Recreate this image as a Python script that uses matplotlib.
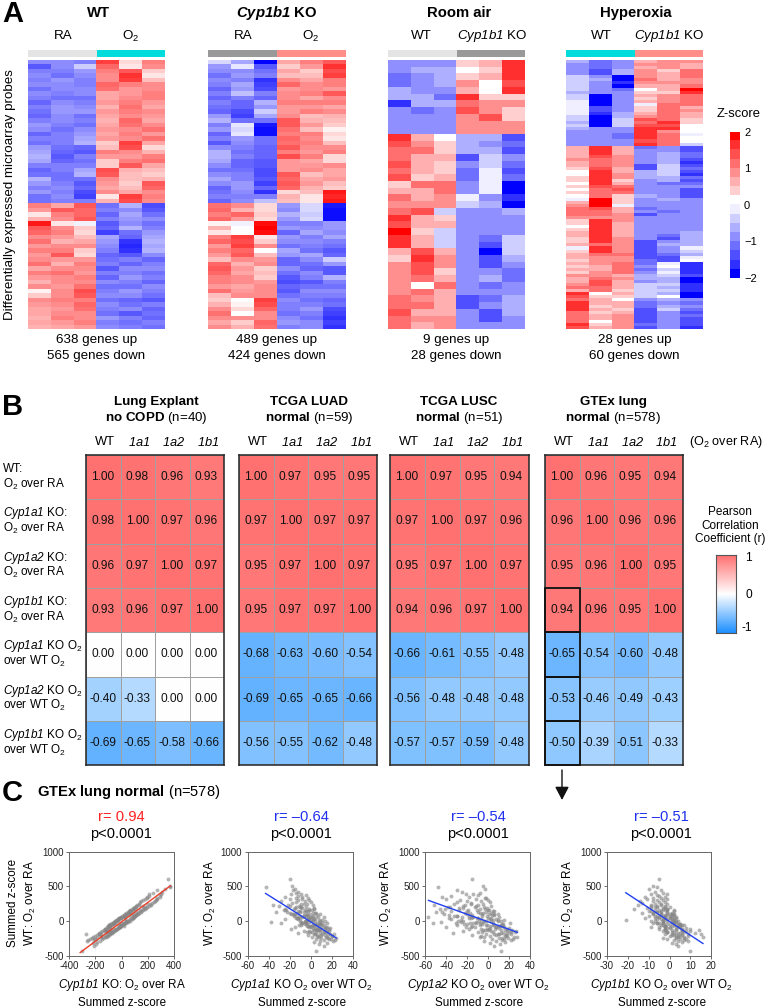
import numpy as np
import matplotlib
matplotlib.use("Agg")
import matplotlib.pyplot as plt
from matplotlib.colors import ListedColormap, BoundaryNorm, LinearSegmentedColormap, Normalize
from matplotlib.patches import Rectangle

plt.rcParams["font.family"] = ["Liberation Sans", "DejaVu Sans"]
plt.rcParams["mathtext.fontset"] = "custom"
plt.rcParams["mathtext.rm"] = "Liberation Sans"
plt.rcParams["mathtext.it"] = "Liberation Sans:italic"
plt.rcParams["mathtext.cal"] = "Liberation Sans:italic"
plt.rcParams["mathtext.bf"] = "Liberation Sans:bold"
plt.rcParams["mathtext.bfit"] = "Liberation Sans:italic:bold"
plt.rcParams["axes.unicode_minus"] = False

# ---- Panel A: z-scores read per row (columns: 3 + 3 samples) ----
wt_o2_z = [
    [-0.9,-0.9,-1.0,1.5,0.3,1.0],[-1.3,-0.9,-0.4,1.2,0.2,0.9],[-1.0,-1.0,-0.8,1.0,1.3,0.4],[-0.9,-1.1,-0.9,0.9,1.6,0.2],
    [-1.0,-0.8,-1.0,0.9,1.5,0.5],[-0.9,-0.9,-1.0,1.2,1.0,0.9],[-1.1,-0.9,-0.9,1.1,0.8,0.9],[-0.9,-1.0,-0.9,0.7,0.8,1.0],
    [-1.0,-1.1,-1.1,0.7,0.9,1.0],[-1.2,-0.9,-1.0,0.8,1.0,0.8],[-1.0,-0.8,-0.9,0.6,1.1,0.7],[-1.1,-0.8,-0.8,0.8,1.0,0.9],
    [-1.2,-0.9,-1.1,0.7,0.9,0.8],[-1.0,-0.9,-1.0,0.6,1.2,0.7],[-0.8,-1.0,-1.1,0.7,1.1,0.9],[-0.9,-1.1,-0.9,0.8,0.9,1.1],
    [-1.2,-1.0,-0.8,0.7,1.0,0.8],[-1.0,-1.0,-0.7,0.8,0.9,1.1],[-1.1,-1.0,-0.6,0.4,1.5,0.7],[-0.8,-1.1,-1.2,0.5,1.4,0.3],
    [-0.7,-1.2,-1.3,1.0,0.9,0.6],[-0.6,-1.3,-1.0,0.8,0.8,1.0],[-0.7,-1.2,-1.1,0.4,1.0,1.1],[-1.0,-1.0,-1.0,0.4,1.3,0.7],
    [-1.2,-1.0,-0.7,1.4,0.6,0.5],[-1.1,-1.1,-0.6,1.3,0.5,0.4],[-0.6,-1.1,-1.1,0.9,0.5,0.6],[-0.8,-1.0,-1.3,0.8,0.4,1.3],
    [-1.0,-0.9,-1.2,0.7,0.5,1.2],[-0.8,-1.0,-1.4,0.9,0.7,0.9],[-1.1,-0.9,-1.5,0.2,1.5,1.0],[-1.1,-1.0,-1.0,0.6,1.4,0.9],
    [1.0,0.7,1.3,-1.1,-0.6,-1.4],[0.8,1.3,1.2,-1.0,-0.9,-1.3],[0.2,1.0,1.2,-1.2,-0.7,-1.1],[0.6,0.9,1.3,-1.0,-0.8,-0.9],
    [1.8,0.2,-0.1,-1.3,-0.9,-1.1],[1.3,0.9,0.4,-1.2,-0.6,-1.0],[1.2,1.0,0.3,-1.5,-1.1,-0.8],[0.9,0.8,0.5,-0.7,-1.2,-0.7],
    [1.1,0.6,0.7,-0.8,-1.6,-0.6],[0.8,0.9,0.9,-0.9,-1.7,-0.7],[1.0,1.0,0.4,-1.0,-1.6,-0.6],[0.8,1.3,0.3,-1.2,-1.3,-0.9],
    [0.9,0.8,0.8,-1.1,-1.0,-1.2],[1.1,0.6,1.0,-1.0,-1.2,-1.0],[0.7,0.9,0.9,-1.3,-0.9,-0.9],[1.0,1.1,0.8,-1.0,-1.0,-1.1],
    [0.8,0.9,1.0,-1.2,-0.8,-1.0],[0.6,0.9,0.9,-0.9,-1.0,-1.2],[0.9,0.8,1.1,-1.1,-1.1,-0.9],[0.1,0.9,1.4,-1.0,-0.8,-1.0],
    [0.4,0.9,1.3,-0.9,-0.9,-1.1],[0.9,1.0,1.0,-1.1,-1.2,-1.3],[0.8,0.9,1.2,-0.9,-1.1,-1.0],[0.7,0.8,1.1,-1.0,-0.9,-1.2],
    [0.7,0.9,0.9,-1.1,-1.3,-1.1],[0.6,1.0,0.9,-0.8,-1.0,-1.2],[0.7,0.8,1.0,-1.0,-1.1,-1.0],[0.6,0.7,0.8,-0.9,-1.0,-1.1],
]
ko_o2_z = [
    [-0.3,-0.7,-2.0,0.7,1.0,1.3],[-0.8,-0.2,-1.3,0.4,0.8,1.6],[-0.9,-0.9,-1.1,0.7,0.4,1.4],[-1.1,-0.8,-1.0,0.5,0.5,1.5],
    [-0.9,-1.0,-1.6,0.9,0.7,1.0],[-1.0,-0.7,-1.5,1.2,0.9,1.0],[-1.2,-0.8,-1.4,0.8,0.9,0.8],[-1.0,-0.5,-1.0,0.9,1.0,1.3],
    [-1.2,-1.0,-1.2,0.9,0.7,0.9],[-1.0,-1.2,-0.6,1.0,1.0,1.0],[-1.1,-1.2,-0.8,0.8,0.8,0.7],[-1.2,-1.4,-0.4,0.8,1.0,0.9],
    [-0.8,-1.5,-0.7,0.9,0.5,0.6],[-0.6,-1.1,-1.1,1.3,0.6,0.5],[-1.0,-0.2,-1.8,1.3,0.8,0.4],[-0.8,-0.3,-1.9,1.1,0.5,0.1],
    [-1.2,-0.2,-1.9,1.0,1.0,0.3],[-1.0,-0.8,-1.1,1.2,0.9,0.2],[-1.3,-0.9,-1.1,1.1,1.0,0.5],[-0.9,-1.0,-1.2,1.3,0.9,0.9],
    [-0.6,-1.1,-1.2,1.0,0.8,1.0],[-0.6,-1.0,-1.2,1.4,1.0,0.3],[-0.7,-1.2,-1.3,0.8,0.7,0.3],[-0.9,-1.2,-1.3,0.8,0.8,0.9],
    [-1.1,-1.1,-1.4,0.8,0.9,0.7],[-0.9,-1.0,-1.4,1.3,0.5,0.7],[-0.7,-1.0,-1.3,1.2,0.7,0.8],[-0.9,-0.8,-1.5,1.3,0.8,0.5],
    [-1.2,-0.8,-1.2,1.2,0.6,0.4],[-1.1,-0.9,-1.6,0.3,0.5,1.8],[-1.0,-1.0,-1.0,0.6,0.2,1.7],[-1.2,-0.9,-0.5,0.5,0.2,1.8],
    [1.1,0.9,0.3,-0.8,-0.3,-1.8],[1.2,0.6,0.3,-0.9,-0.3,-1.9],[1.0,1.2,0.4,-0.6,-0.4,-1.9],[1.2,0.8,0.3,-0.8,-0.3,-1.9],
    [0.1,-0.1,1.9,-1.0,-1.0,-0.8],[0.6,0.0,2.0,-0.8,-0.9,-0.8],[0.2,0.0,1.9,-1.2,-0.7,-0.9],[1.0,1.5,0.2,-0.8,-1.0,-0.7],
    [1.2,1.4,0.4,-0.9,-0.9,-1.0],[0.8,1.5,0.9,-1.1,-1.0,-1.1],[1.0,1.2,0.0,-0.7,-1.1,-1.3],[0.8,1.3,0.5,-0.8,-0.7,-1.2],
    [0.5,0.9,0.8,-1.2,-0.9,-0.4],[1.2,0.6,0.9,-1.2,-1.1,-0.8],[1.3,0.8,0.4,-0.9,-1.2,-1.3],[1.2,0.7,0.5,-1.1,-0.9,-1.3],
    [1.0,0.9,0.4,-1.3,-1.0,-0.6],[1.0,0.9,0.8,-1.4,-1.3,-1.0],[0.8,0.7,0.9,-1.2,-1.1,-1.1],[1.1,0.8,0.9,-1.3,-0.9,-0.9],
    [0.5,0.9,0.9,-1.1,-1.0,-1.0],[0.4,0.0,1.5,-0.9,-1.1,-1.2],[0.6,0.1,1.4,-1.0,-1.0,-1.1],[0.9,0.3,1.2,-1.0,-0.8,-1.4],
    [1.1,0.0,0.9,-1.1,-1.0,-1.5],[0.9,0.9,0.9,-0.9,-1.1,-1.6],[0.7,0.4,1.2,-0.8,-0.9,-1.5],[0.9,0.6,1.1,-1.0,-0.9,-1.6],
]
room_air_z = [
    [-0.9,-0.9,-0.9,0.3,0.6,1.5],[-0.9,-0.7,-0.7,0.0,0.3,1.6],[-1.2,-0.9,-0.7,0.3,0.5,1.6],[-1.2,-0.9,-0.7,0.8,0.0,1.3],
    [-0.7,-0.9,-0.9,0.6,0.0,1.6],[-0.7,-0.7,-1.2,1.7,0.3,0.3],[-1.6,-0.7,-0.7,1.0,0.9,0.9],[-0.8,-1.2,-0.9,1.4,0.9,0.3],
    [-0.9,-0.9,-0.9,0.9,1.3,0.3],[-0.9,-0.9,-0.9,0.9,0.9,0.9],[-0.9,-0.9,-0.9,0.9,0.9,0.9],
    [1.6,0.6,0.0,-0.6,-0.6,-1.5],[1.4,0.9,0.3,-0.7,-0.9,-1.2],[1.1,1.0,0.3,-0.7,-0.7,-1.4],[1.1,0.6,0.5,-1.5,-0.5,-1.0],
    [1.4,0.5,0.3,-1.0,-0.5,-1.2],[1.1,0.5,0.3,-1.2,-0.2,-1.5],[1.4,0.3,0.5,-1.2,-0.2,-1.2],[0.3,1.0,1.1,-0.8,-0.2,-1.8],
    [0.5,0.6,1.1,-0.8,-0.2,-1.8],[1.0,0.6,0.9,-0.2,-0.9,-1.6],[0.9,0.9,0.9,-0.5,-0.7,-1.8],[1.1,1.3,-0.3,-1.0,-1.0,-0.6],
    [1.6,0.6,0.3,-1.0,-1.0,-0.8],[1.4,0.6,0.5,-1.0,-1.0,-0.8],[1.9,0.3,-0.3,-1.0,-0.8,-0.8],[1.7,0.5,-0.3,-1.0,-1.2,-0.5],
    [1.7,0.6,-0.3,-1.0,-1.4,-0.5],[0.5,1.3,0.6,-0.8,-1.9,-0.3],[0.3,1.5,0.9,-1.0,-1.3,-0.7],[0.8,1.3,0.9,-0.8,-1.3,-0.9],
    [0.8,1.4,0.3,-0.8,-1.0,-1.2],[0.8,1.2,0.5,-1.0,-0.7,-1.2],[0.8,0.2,1.2,-1.0,-1.2,-1.0],[0.8,1.1,0.6,-1.0,-1.0,-1.0],
    [1.0,0.9,0.6,-1.3,-1.2,-0.7],[1.0,1.1,0.6,-1.3,-1.0,-0.7],[1.3,0.6,0.6,-1.0,-1.3,-0.7],[1.0,0.8,0.8,-1.0,-1.3,-0.9],
    [1.0,0.5,0.9,-1.0,-1.0,-0.9],
]
hyperoxia_z = [
    [-0.7,-1.2,-0.9,0.6,0.9,0.8],[-0.9,-1.2,-0.9,0.9,0.9,0.6],[-1.0,-1.2,-0.8,0.6,0.9,0.6],[-1.0,-1.3,-0.7,0.8,0.3,1.1],
    [-1.0,-1.3,-0.7,0.8,0.6,1.1],[-0.3,-0.9,-1.8,0.9,0.5,1.1],[-0.5,-0.7,-1.9,1.0,0.5,0.9],[-0.5,-0.9,-1.6,0.9,0.9,0.9],
    [-0.5,-0.8,-1.9,0.5,0.7,1.0],[-0.5,-1.0,-1.2,0.0,0.6,1.9],[-0.7,-1.0,-1.0,0.3,0.4,1.6],[-0.3,-1.8,-0.8,0.5,0.9,1.2],
    [-0.5,-1.9,-0.8,0.3,0.9,1.2],[-0.2,-1.9,-0.8,0.5,0.8,1.2],[-0.2,-1.9,-0.8,-0.2,1.2,1.2],[-0.2,-1.5,-1.0,0.4,1.2,0.6],
    [-0.2,-1.5,-0.9,0.3,1.2,0.8],[-0.2,-1.6,-0.7,0.5,1.2,0.6],[-0.4,-1.9,-0.7,0.9,1.2,0.5],[-0.3,-1.9,-0.5,1.4,1.0,0.3],
    [-0.6,-1.9,-0.5,1.2,1.5,0.3],[-0.5,-1.9,-0.4,1.4,1.4,0.0],[-0.7,-1.0,-1.0,1.6,1.5,0.0],[-1.0,-1.0,-1.0,1.6,0.9,0.1],
    [-1.0,-1.0,-1.1,1.5,1.1,-0.1],[-1.0,-1.0,-1.1,1.5,1.2,0.0],[-0.9,-1.0,-0.9,1.3,1.0,0.2],[-0.9,-1.0,-0.9,1.6,1.0,-0.4],
    [0.5,1.5,0.6,-1.1,-0.9,-1.3],[0.6,1.5,0.5,-1.0,-0.9,-1.3],[0.6,1.5,0.6,-1.0,-0.7,-1.2],[0.6,1.3,0.9,-1.0,-0.7,-1.2],
    [0.9,1.1,0.9,-0.9,-0.7,-1.4],[0.6,1.2,0.9,-0.9,-0.7,-1.7],[0.5,1.1,0.9,-1.3,-0.5,-1.3],[0.3,1.4,0.6,-1.4,-0.4,-1.2],
    [0.1,1.5,0.6,-0.7,-0.3,-1.3],[0.0,1.6,0.9,-0.7,-0.4,-1.6],[0.3,1.7,0.8,-0.7,-0.7,-1.2],[0.3,1.6,0.3,-0.8,-0.7,-1.3],
    [0.1,1.7,0.5,-0.8,-1.1,-1.2],[0.4,1.3,1.2,-0.8,-1.0,-1.0],[0.1,1.2,1.3,-1.0,-1.0,-1.3],[0.3,1.2,1.1,-1.0,-0.8,-1.4],
    [0.0,1.0,0.4,-0.7,-0.8,-1.3],[-0.2,1.9,0.3,-0.8,-0.7,-1.0],[0.5,1.9,0.4,-0.9,-0.8,-0.9],[0.9,1.9,-0.2,-1.0,-0.9,-0.9],
    [1.0,1.3,0.6,-1.2,-1.0,-1.0],[1.1,1.1,0.6,-1.0,-1.2,-1.0],[1.1,1.0,0.9,-1.3,-1.0,-1.0],[0.8,0.9,0.9,-1.0,-1.0,-1.0],
    [0.3,1.5,0.8,-1.0,-1.0,-1.0],[0.3,1.5,0.6,-1.0,-1.0,-1.0],[0.2,1.5,0.6,-1.0,-1.0,-1.0],[0.3,1.5,0.5,-1.0,-1.0,-0.8],
    [0.6,1.5,0.5,-1.0,-1.0,-0.7],[0.6,1.5,0.6,-1.0,-1.2,-0.7],[0.3,1.5,0.9,-1.0,-1.3,-0.7],[0.3,1.5,0.9,-1.4,-0.8,-0.7],
    [0.6,1.2,0.9,-1.5,-0.7,-0.7],[-0.2,1.5,0.9,-1.5,-0.9,-0.2],[0.4,1.6,0.9,-1.3,-1.0,-0.4],[0.6,1.0,1.1,-1.4,-1.1,-0.6],
    [0.5,0.8,0.9,-1.3,-1.5,-0.1],[0.3,0.9,0.9,-1.2,-1.4,0.1],[0.6,0.8,1.2,-1.1,-0.1,-1.6],[0.3,0.7,1.2,-0.9,0.0,-1.6],
    [0.6,0.7,1.1,-1.2,-0.3,-1.6],[0.3,0.9,1.1,-1.0,-0.2,-1.6],[0.8,0.8,0.7,-0.7,-0.4,-1.5],[0.6,1.2,0.9,-0.7,-0.6,-1.9],
    [0.6,1.4,0.6,-1.0,-0.7,-1.8],[0.8,1.4,0.6,-0.5,-0.5,-1.7],[1.0,1.2,0.7,-0.4,-0.6,-1.7],[0.7,1.1,0.4,-0.4,-0.5,-1.6],
    [1.5,0.1,0.7,-0.4,-0.7,-1.9],[1.3,0.4,0.3,-0.5,0.0,-1.9],[1.1,0.6,0.2,-0.9,-0.7,-0.9],[1.5,0.5,0.6,-1.2,-0.9,-1.1],
    [1.5,0.4,0.6,-1.2,-0.7,-1.0],[1.5,0.6,0.4,-1.3,-0.5,-1.2],[1.2,0.4,0.7,-1.5,-0.8,-1.3],[1.0,0.5,0.8,-1.4,-1.0,-1.2],
    [1.2,0.7,0.9,-1.5,-1.0,-1.3],[1.1,0.1,0.9,-1.4,-0.9,-1.5],[1.5,0.4,0.8,-1.2,-1.0,-1.4],[1.4,0.7,0.9,-1.5,-1.0,-1.6],
]

# ---- Panel B: Pearson r, one 7x4 matrix per cohort ----
corr_explant = [[1.00,0.98,0.96,0.93],[0.98,1.00,0.97,0.96],[0.96,0.97,1.00,0.97],[0.93,0.96,0.97,1.00],
                [0.00,0.00,0.00,0.00],[-0.40,-0.33,0.00,0.00],[-0.69,-0.65,-0.58,-0.66]]
corr_luad = [[1.00,0.97,0.95,0.95],[0.97,1.00,0.97,0.97],[0.95,0.97,1.00,0.97],[0.95,0.97,0.97,1.00],
             [-0.68,-0.63,-0.60,-0.54],[-0.69,-0.65,-0.65,-0.66],[-0.56,-0.55,-0.62,-0.48]]
corr_lusc = [[1.00,0.97,0.95,0.94],[0.97,1.00,0.97,0.96],[0.95,0.97,1.00,0.97],[0.94,0.96,0.97,1.00],
             [-0.66,-0.61,-0.55,-0.48],[-0.56,-0.48,-0.48,-0.48],[-0.57,-0.57,-0.59,-0.48]]
corr_gtex = [[1.00,0.96,0.95,0.94],[0.96,1.00,0.96,0.96],[0.95,0.96,1.00,0.95],[0.94,0.96,0.95,1.00],
             [-0.65,-0.54,-0.60,-0.48],[-0.53,-0.46,-0.49,-0.43],[-0.50,-0.39,-0.51,-0.33]]
corr_cols = ["WT", r"$\mathcal{1a1}$", r"$\mathcal{1a2}$", r"$\mathcal{1b1}$"]

# ---- Panel C: summed z-scores, y is shared between the four scatters ----
wt_summed = [
    610,505,490,470,445,420,405,395,385,375, 365,355,345,340,330,325,315,305,300,295,
    285,280,270,265,255,250,240,235,225,220, 210,205,195,190,180,175,165,160,150,145,
    135,130,120,115,105,100,90,85,75,70, 60,55,45,40,30,25,15,10,0,-5,
    -15,-20,-30,-35,-45,-50,-60,-65,-75,-80, -90,-95,-105,-110,-120,-125,-135,-140,-150,-155,
    -165,-170,-180,-185,-195,-200,-210,-215,-225,-230, -240,-245,-255,-260,-270,-280,-290,-300,-315,-330,
    -355,-435,
    220,180,150,120,90,60,30,0,-30,-60, -90,-120,-150,-180,-210,40,10,-20,-50,-80,
    -110,-140,-170,-200,100,70,130,160,190,250, -100,-60,-20,20,60,100,-130,-160,-190,-220,
    155,125,95,65,35,5,-25,-55,-85,-115, 135,105,75,45,15,-15,-45,-75,-105,-135,
    200,170,140,110,80,50,20,-10,-40,-70, -100,-130,-160,-190,-220,-250,0,-30,-60,-90,
    240,200,160,120,80,40,0,-40,-80,-120, -150,-180,-210,-240,-270,-110,-70,-30,10,50]
x_1b1_o2_ra = [
    350,365,370,330,270,310,240,300,210,290, 210,290,195,265,190,270,180,260,165,255,
    150,245,140,230,135,215,120,220,110,205, 105,195,90,185,85,175,65,165,55,150,
    45,145,35,130,25,125,15,110,5,100, -5,95,-20,90,-30,75,-40,60,-50,45,
    -60,35,-70,20,-85,5,-95,-5,-105,-20, -115,-30,-125,-40,-135,-45,-150,-55,-160,-65,
    -170,-75,-270,-85,-190,-100,-200,-110,-215,-125, -225,-140,-240,-150,-255,-165,-260,-185,-215,-195,
    -210,-300,
    165,100,70,110,30,70,-30,40,-60,-10, -100,-50,-120,-90,-160,-10,30,-50,-5,-85,
    -60,-110,-95,-130,90,15,55,140,95,195, -95,-70,-5,-30,25,45,-90,-100,-155,-160,
    70,60,110,15,65,-35,15,-85,-20,-120, 125,40,85,-5,55,-55,10,-90,-35,-130,
    110,160,60,120,20,85,-25,30,-65,15, -25,-80,-80,-170,-120,-205,-45,20,-95,-10,
    130,170,85,55,95,-20,35,-70,-15,-110, -70,-170,-105,-190,-210,-130,-20,-60,40,-5]
x_1a1_ko = [
    -20,-18,-43,-15,-17,-12,-14,-9,-19,-5, -12,-25,-8,-14,-3,-20,-8,-2,-12,-28,
    -6,-14,0,-18,-4,-9,-22,2,-11,-30, -5,-14,3,-8,-16,-2,-26,1,-10,-5,
    -33,-7,4,-13,-1,-19,6,-4,-11,2, -8,7,-2,-14,3,-25,8,-5,1,-38,
    -2,-28,9,-6,4,-11,12,0,-4,7, -15,14,2,-19,10,5,-7,17,1,12,
    9,-12,18,3,13,-3,20,7,14,1, 24,10,17,5,12,21,9,3,15,8,
    12,5,
    -20,3,-12,5,-7,12,-3,13,-8,6, 0,8,-4,16,6,-12,-6,15,-9,11,
    13,-2,5,10,-17,-7,-10,-2,-15,-7, 4,2,-8,11,0,9,7,-1,11,15,
    -6,-20,-15,1,-12,4,-5,10,-2,17, -23,-4,-3,-10,2,-9,8,-1,6,15,
    -10,-25,-3,-16,-5,-13,0,-6,9,-3, 18,3,12,22,8,19,-5,11,2,15,
    -36,-9,-24,2,-16,-2,9,-4,13,6, 14,4,20,16,23,9,3,6,-10,4]
x_1a2_ko = [
    -15,-5,-48,-3,-30,-25,-8,-14,-21,-10, -35,-44,-18,-3,-2,-40,-12,-27,0,-20,
    -7,-30,2,-16,-33,-5,-52,-10,-24,3, -38,-13,-1,-28,-46,-8,0,-19,5,-35,
    -10,-50,3,-22,-6,-42,6,-15,-1,-30, -57,10,-18,0,-35,8,-26,-4,12,-45,
    -12,-53,5,-20,14,-8,-30,2,-15,8, -40,10,-18,18,-5,12,-24,3,20,-10,
    -34,14,-2,22,8,-15,16,2,25,-8, 10,19,4,24,13,-4,8,16,2,11,
    6,12,
    -12,-3,6,-17,4,-25,-7,9,-31,5, 15,-3,22,6,17,-10,3,-14,12,-21,
    7,27,12,18,-20,-6,-2,-11,-24,-16, 2,-1,-8,15,-14,9,16,-6,9,28,
    -28,-5,-37,-15,2,-24,-12,-2,8,-7, -44,6,-30,-16,9,-5,-23,14,1,18,
    -4,-41,-20,1,-33,-11,5,-26,-6,11, 20,0,26,10,-4,15,-9,21,6,-16,
    -22,-36,1,-8,-18,3,-29,13,-13,23, 5,17,-7,13,22,-1,9,-17,-2,-37]
x_1b1_ko = [
    -5,-8,-6,-10,-4,-7,-3,-9,-1,-6, -5,-12,-2,-8,-4,-11,-1,-6,-3,-14,
    -8,-2,-5,-13,-1,-7,-4,-15,-2,-9, 0,-6,-11,-3,-1,-17,-7,2,-4,-9,
    -1,-6,-13,1,-4,-8,2,-2,-10,0, -5,3,-12,-2,1,-6,-21,4,-1,-3,
    2,-8,-3,5,0,-4,7,-2,1,-9, 3,-1,6,-5,1,14,-3,8,2,-1,
    12,4,-2,15,2,6,0,9,4,16, 3,7,-1,5,2,9,4,6,1,3,
    4,10,
    -6,-3,2,-8,-1,1,-4,3,-6,2, 5,-2,7,1,4,-7,-3,2,6,-5,
    3,10,5,1,-4,-2,-6,-1,-9,-4, 0,5,-3,2,-2,0,6,-1,3,7,
    -2,-8,1,-5,-1,-9,2,-3,4,-2, -4,1,-7,0,-3,3,-1,5,-2,6,
    -7,-1,-10,2,-6,0,-3,1,5,-2, 8,3,-1,6,3,8,1,-5,4,-2,
    -9,-2,-5,-1,-3,2,-7,4,0,6, 1,9,5,-3,7,10,-2,-6,2,3]
fit_x = [[-315, 370], [-43, 24], [-57, 28], [-21, 16]]
fit_y = [[-450, 510], [400, -240], [300, -160], [410, -320]]

W, H = 766, 1008
fig = plt.figure(figsize=(W / 100, H / 100), dpi=100)


def px_axes(x0, y0, x1, y1):
    # axes from pixel box, y measured from the top of the figure
    return fig.add_axes([x0 / W, 1 - y1 / H, (x1 - x0) / W, (y1 - y0) / H])


# overlay in pixel coordinates, used for all free text
ov = fig.add_axes([0, 0, 1, 1], zorder=10)
ov.set_xlim(0, W)
ov.set_ylim(H, 0)
ov.axis("off")


def label(x, y, s, size=9.6, ha="center", **kw):
    ov.text(x, y, s, fontsize=size, ha=ha, va="center", **kw)


# ---- Panel A ----
steps = np.linspace(-2, 2, 17)
z_colors = []
for lo in steps[:-1]:
    c = lo + 0.125
    if lo == 0:
        t = 1.0
    elif abs(c) >= 1.8:
        t = 0.0
    else:
        t = 1 - abs(c) / 2
    z_colors.append((t, t, 1) if lo < 0 else (1, t, t))
z_cmap = ListedColormap(z_colors)
z_norm = BoundaryNorm(steps, 16)
smooth_cmap = LinearSegmentedColormap.from_list("zs", ["#0000ff", "#ffffff", "#ff0000"])
smooth_norm = Normalize(-2, 2)

heat_boxes = [
    (28, 165, wt_o2_z, "WT", 98.7, "RA", r"O$_2$", 63, 131, "#e4e4e4", "#00dcdc", "638 genes up", "565 genes down"),
    (208, 345.5, ko_o2_z, r"$\mathbfit{Cyp1b1}$ KO", 277, "RA", r"O$_2$", 243, 311, "#999999", "#ff8f88", "489 genes up", "424 genes down"),
    (388, 525, room_air_z, "Room air", 459, "WT", r"$\mathcal{Cyp1b1}$ KO", 421, 492, "#e4e4e4", "#999999", "9 genes up", "28 genes down"),
    (566, 703, hyperoxia_z, "Hyperoxia", 636, "WT", r"$\mathcal{Cyp1b1}$ KO", 601, 669, "#00dcdc", "#ff8f88", "28 genes up", "60 genes down"),
]
for x0, x1, z, title, tx, left, right, lx, rx, cl, cr, up, down in heat_boxes:
    ax = px_axes(x0, 60.5, x1, 329)
    # the two large panels have many more rows, they blend to a smooth ramp
    if x0 < 380:
        ax.imshow(np.array(z), cmap=smooth_cmap, norm=smooth_norm, aspect="auto", interpolation="nearest")
    else:
        ax.imshow(np.array(z), cmap=z_cmap, norm=z_norm, aspect="auto", interpolation="nearest")
    ax.axis("off")
    mid = (x0 + x1) / 2
    ov.add_patch(Rectangle((x0, 50), mid - x0, 6.7, fc=cl, ec="none"))
    ov.add_patch(Rectangle((mid, 50), x1 - mid, 6.7, fc=cr, ec="none"))
    label(tx, 13, title, size=10.7, fontweight="bold")
    label(lx, 36, left)
    label(rx, 36, right)
    label(mid, 340, up)
    label(mid, 356, down)

label(10, 195, "Differentially expressed microarray probes", rotation=90, size=9.6)
label(739, 114, "Z-score", size=9.4)
cb = px_axes(730, 132, 740, 278.5)
cb.imshow(((steps[:-1] + steps[1:]) / 2)[::-1].reshape(-1, 1), cmap=z_cmap, norm=z_norm, aspect="auto", interpolation="nearest")
cb.axis("off")
for v, s, y in [(2, "2", 132.5), (1, "1", 169), (0, "0", 205.6), (-1, "\u22121", 242), (-2, "\u22122", 279)]:
    label(744, y, s, size=8, ha="left")

# ---- Panel B ----
corr_cmap = LinearSegmentedColormap.from_list("corr", ["#1e90ff", "#ffffff", "#ff7070"])
corr_boxes = [
    (86.3, 224.3, corr_explant, "Lung Explant", r"$\mathbf{no\ COPD}$ (n=40)", 156),
    (239.3, 377.3, corr_luad, "TCGA LUAD", r"$\mathbf{normal}$ (n=59)", 309),
    (390.3, 528.7, corr_lusc, "TCGA LUSC", r"$\mathbf{normal}$ (n=51)", 459),
    (545.3, 682.7, corr_gtex, "GTEx lung", r"$\mathbf{normal}$ (n=578)", 613),
]
for x0, x1, r, top, bottom, tx in corr_boxes:
    ax = px_axes(x0, 455, x1, 765.3)
    ax.pcolormesh(np.array(r), cmap=corr_cmap, vmin=-1, vmax=1, edgecolors="#a0a0a0", linewidth=0.7)
    ax.set_xlim(0, 4)
    ax.set_ylim(7, 0)
    ax.set_xticks([])
    ax.set_yticks([])
    for sp in ax.spines.values():
        sp.set_linewidth(1.15)
        sp.set_color("#2a2a2a")
    for i, row in enumerate(r):
        for j, v in enumerate(row):
            ax.text(j + 0.48, i + 0.5, f"{v:.2f}", fontsize=8.6, ha="center", va="center", color="#111111")
    for j, c in enumerate(corr_cols):
        label(x0 + (j + 0.5) * (x1 - x0) / 4 + 1, 442, c, size=9.3)
    label(tx, 402, top, size=9.6, fontweight="bold")
    label(tx, 418, bottom, size=9.6)
    if r is corr_gtex:
        for i in [3, 4, 5, 6]:
            ax.add_patch(Rectangle((0, i), 1, 1, fc="none", ec="#111111", lw=1.3, clip_on=False, zorder=5))

row_labels = [
    ("WT:", r"O$_2$ over RA"),
    (r"$\mathcal{Cyp1a1}$ KO:", r"O$_2$ over RA"),
    (r"$\mathcal{Cyp1a2}$ KO:", r"O$_2$ over RA"),
    (r"$\mathcal{Cyp1b1}$ KO:", r"O$_2$ over RA"),
    (r"$\mathcal{Cyp1a1}$ KO O$_2$", r"over WT O$_2$"),
    (r"$\mathcal{Cyp1a2}$ KO O$_2$", r"over WT O$_2$"),
    (r"$\mathcal{Cyp1b1}$ KO O$_2$", r"over WT O$_2$"),
]
for i, (a, b) in enumerate(row_labels):
    yc = 455 + (i + 0.5) * 310.3 / 7
    label(3, yc - 8, a, size=8.5, ha="left")
    label(3, yc + 7, b, size=8.5, ha="left")
label(689, 442, r"(O$_2$ over RA)", size=9.1, ha="left")
label(730, 512, "Pearson", size=8.5)
label(730, 525.6, "Correlation", size=8.5)
label(730, 538.7, "Coefficient (r)", size=8.5)

cb2 = px_axes(716.3, 555, 735.7, 632.7)
cb2.imshow(np.linspace(1, -1, 120).reshape(-1, 1), cmap=corr_cmap, vmin=-1, vmax=1, aspect="auto", interpolation="bilinear")
cb2.set_xticks([])
cb2.set_yticks([])
for sp in cb2.spines.values():
    sp.set_linewidth(0.8)
    sp.set_color("#555555")
for s, y in [("1", 557.7), ("0", 594.5), ("-1", 628)]:
    label(745 if s != "-1" else 742, y, s, size=8.6, ha="left")

ov.annotate("", xy=(562, 800), xytext=(562, 770),
            arrowprops=dict(arrowstyle="-|>,head_width=0.42,head_length=0.8", color="#111111", lw=1.0, shrinkA=0, shrinkB=0))

# ---- Panel C ----
scatter_boxes = [
    (69, 174.3, x_1b1_o2_ra, (-400, 400), [-400, -200, 0, 200, 400], "#ff2020", "#e8402a", "r= 0.94",
     r"$\mathcal{Cyp1b1}$ KO: O$_2$ over RA", 121, 30.7),
    (247.7, 353, x_1a1_ko, (-60, 40), [-60, -40, -20, 0, 20, 40], "#2030f0", "#2040f0", "r= \u20130.64",
     r"$\mathcal{Cyp1a1}$ KO O$_2$ over WT O$_2$", 301, 210.7),
    (425.3, 530, x_1a2_ko, (-60, 40), [-60, -40, -20, 0, 20, 40], "#2030f0", "#2040f0", "r= \u20130.54",
     r"$\mathcal{Cyp1a2}$ KO O$_2$ over WT O$_2$", 478, 386),
    (607, 711.3, x_1b1_ko, (-30, 20), [-30, -20, -10, 0, 10, 20], "#2030f0", "#2040f0", "r= \u20130.51",
     r"$\mathcal{Cyp1b1}$ KO O$_2$ over WT O$_2$", 661, 568),
]
for k, (x0, x1, xs, xlim, xt, rcol, lcol, rtxt, xlab, cx, ylx) in enumerate(scatter_boxes):
    ax = px_axes(x0, 851.7, x1, 956)
    ax.scatter(xs, wt_summed, s=8, color="#858585", alpha=0.6, linewidths=0, clip_on=False)
    ax.plot(fit_x[k], fit_y[k], color=lcol, lw=1.0)
    ax.set_xlim(*xlim)
    ax.set_ylim(-500, 1000)
    ax.set_xticks(xt)
    ax.set_yticks([-500, 0, 500, 1000])
    ax.tick_params(labelsize=7, length=2.4, width=0.6, pad=1.5, color="#555555", labelcolor="#222222")
    for sp in ax.spines.values():
        sp.set_linewidth(0.7)
        sp.set_color("#666666")
    label(cx, 816.7, rtxt, size=10.6, color=rcol)
    label(cx, 834, "p<0.0001", size=10.5)
    label(cx + 1, 985, xlab, size=8.4)
    label(cx + 1, 1002.5, "Summed z-score", size=8.4)
    label(ylx, 903, r"WT: O$_2$ over RA", size=8.4, rotation=90)
label(13, 903, "Summed z-score", size=8.4, rotation=90)

label(37, 792, r"$\mathbf{GTEx\ lung\ normal}$ (n=578)", size=10.6, ha="left")

for s, y in [("A", 14), ("B", 407), ("C", 793)]:
    label(2, y, s, size=21, ha="left", fontweight="bold")

fig.savefig("out.png", dpi=100)
